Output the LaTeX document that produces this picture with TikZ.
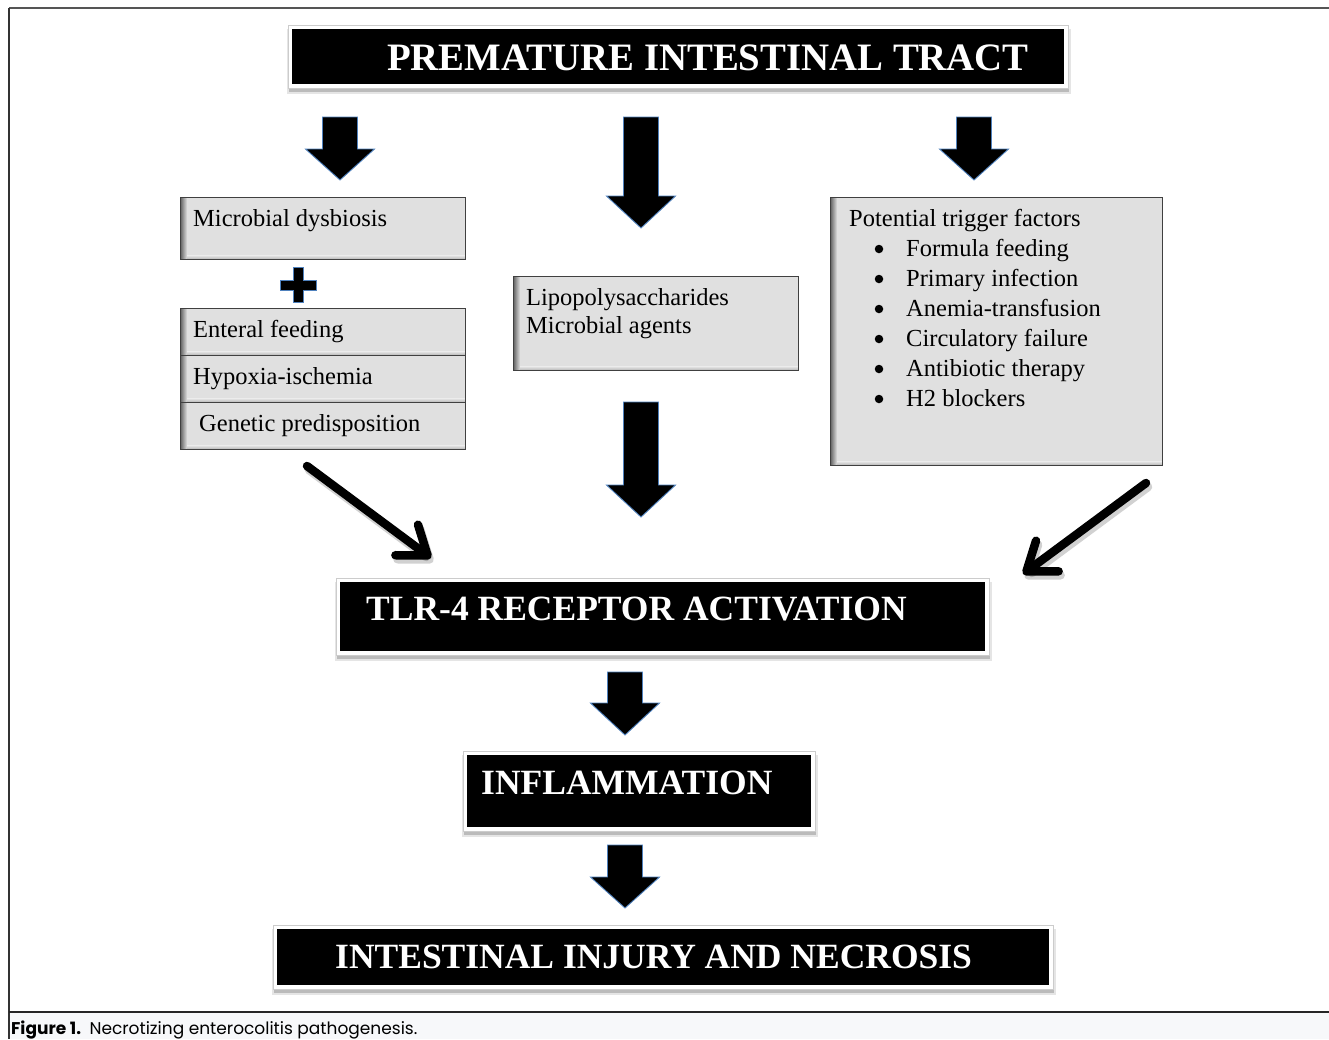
\documentclass[tikz,border=0pt]{standalone}
\usepackage{fontspec}
\setmainfont{Liberation Serif}
\newfontfamily\capfont{Poppins}
\usetikzlibrary{arrows.meta}
\definecolor{boxgray}{HTML}{E0E0E0}
\definecolor{arrowblue}{HTML}{4F81BD}
\definecolor{capbg}{HTML}{F7F8FA}
\definecolor{framegray}{HTML}{555555}
\tikzset{
  graybox/.style={draw=black!75, line width=0.9pt, fill=boxgray, inner sep=0pt, anchor=north west},
  blackbox/.style={fill=black, draw=none, inner sep=0pt, anchor=north west},
  boxframe/.style={fill=white, draw=black!20, line width=0.8pt},
  boxshadow/.style={fill=black, opacity=0.18},
  headtext/.style={text=white, font=\fontsize{35.5}{40}\selectfont\bfseries, inner sep=0pt, anchor=base west},
  bodytext/.style={text=black, font=\fontsize{24.5}{30}\selectfont, inner sep=0pt, anchor=base west},
  bulletdot/.style={circle, fill=black, inner sep=0pt, minimum size=8.5pt},
  blockarr/.style={fill=black, draw=arrowblue, line width=0.9pt, line join=miter},
  diag/.style={line width=8.5pt, line cap=round, -{Straight Barb[length=26pt,width=38pt,round]}},
  diagshadow/.style={diag, draw=black, opacity=0.18},
}
\newcommand{\blockarrow}[4]{% center x, top y, head start y, tip y
  \draw[blockarr] (#1-17.5,#2) -- (#1+17.5,#2) -- (#1+17.5,#3) -- (#1+34.5,#3) -- (#1,#4) -- (#1-34.5,#3) -- (#1-17.5,#3) -- cycle;}
\newcommand{\framedblack}[5]{% name, x1, y1, x2, y2 (black area)
  \fill[boxshadow] (#2-3,#3-1) rectangle (#4+5,#5+8);
  \fill[black, opacity=0.10] (#2-5,#3) rectangle (#4+7,#5+10);
  \draw[boxframe] (#2-4,#3-4) rectangle (#4+4,#5+4);
  \node[blackbox, minimum width=#4-#2, minimum height=#5-#3] (#1) at (#2,#3) {};}
\begin{document}
\begin{tikzpicture}[x=1pt,y=-1pt]
\useasboundingbox (0,0) rectangle (1329,1039);
\fill[white] (0,0) rectangle (1329,1039);
% outer frame and caption
\fill[capbg] (9,1012) rectangle (1329,1039);
\draw[framegray, line width=2pt] (9,8) -- (1329,8);
\draw[black!80, line width=1.2pt] (9,8) -- (9,1039);
\draw[black!85, line width=1.6pt] (9,1012) -- (1329,1012);
\node[inner sep=0pt, anchor=base west, font=\capfont\fontsize{17}{19}\selectfont] (caption) at (11,1034)
  {\textbf{Figure 1.}\hspace{0.5em}Necrotizing enterocolitis pathogenesis.};

% black heading boxes
\framedblack{top}{292}{29}{1064}{84}
\node[headtext, font=\fontsize{38.8}{42}\selectfont\bfseries] (toptext) at (387,70) {PREMATURE INTESTINAL TRACT};
\framedblack{tlr}{340}{582}{985}{651}
\node[headtext] (tlrtext) at (366,620) {TLR-4 RECEPTOR ACTIVATION};
\framedblack{infl}{467}{755}{811}{827}
\node[headtext] (infltext) at (481,794) {INFLAMMATION};
\framedblack{necr}{277}{929}{1049}{985}
\node[headtext] (necrtext) at (335,968) {INTESTINAL INJURY AND NECROSIS};

% gray boxes
\node[graybox, minimum width=285pt, minimum height=62pt] (b1) at (180,197) {};
\node[graybox, minimum width=285pt, minimum height=47pt] (b2a) at (180,308) {};
\node[graybox, minimum width=285pt, minimum height=47pt] (b2b) at (180,355) {};
\node[graybox, minimum width=285pt, minimum height=47pt] (b2c) at (180,402) {};
\node[graybox, minimum width=285pt, minimum height=94pt] (b3) at (513,276) {};
\node[graybox, minimum width=332pt, minimum height=268pt] (b4) at (830,197) {};
\foreach \b in {b1,b2a,b2b,b2c,b3,b4}{
  \shade[left color=black!60, right color=boxgray] ([xshift=0.5pt,yshift=-0.5pt]\b.north west) rectangle ([xshift=7pt,yshift=0.5pt]\b.south west);
  \shade[top color=boxgray, bottom color=black!30] ([xshift=7pt,yshift=4pt]\b.south west) rectangle ([xshift=-0.5pt,yshift=0.5pt]\b.south east);
  \draw[black!75, line width=0.9pt] (\b.north west) rectangle (\b.south east);
}
\node[bodytext] (t1) at (193,226) {Microbial dysbiosis};
\node[bodytext] (t2) at (193,337) {Enteral feeding};
\node[bodytext] (t3) at (193,384) {Hypoxia-ischemia};
\node[bodytext] (t4) at (199,431) {Genetic predisposition};
\node[bodytext] (t5) at (526,305) {Lipopolysaccharides};
\node[bodytext] (t6) at (526,333) {Microbial agents};
\node[bodytext] (t7) at (849,226) {Potential trigger factors};
\foreach \txt [count=\i] in {Formula feeding, Primary infection, Anemia-transfusion, Circulatory failure, Antibiotic therapy, H2 blockers}{
  \node[bulletdot] (bul\i) at (879,219+30*\i) {};
  \node[bodytext] (item\i) at (906,226+30*\i) {\txt};
}

% plus sign
\draw[blockarr] (293,267) -- (303,267) -- (303,280) -- (316,280) -- (316,290) -- (303,290) -- (303,302) -- (293,302) -- (293,290) -- (280,290) -- (280,280) -- (293,280) -- cycle;

% block arrows
\blockarrow{340}{117}{149}{180}
\blockarrow{641}{117}{196}{228}
\blockarrow{974}{117}{149}{180}
\blockarrow{641}{402}{485}{517}
\blockarrow{625}{672}{703}{735}
\blockarrow{625}{845}{877}{908}

% diagonal arrows
\coordinate (d1s) at (307,466);
\coordinate (d1e) at (431,558);
\coordinate (d2s) at (1146,483);
\coordinate (d2e) at (1023,574);
\draw[diagshadow] ([shift={(2,4)}]d1s) -- ([shift={(2,4)}]d1e);
\draw[diagshadow] ([shift={(2,4)}]d2s) -- ([shift={(2,4)}]d2e);
\draw[diag] (d1s) -- (d1e);
\draw[diag] (d2s) -- (d2e);
\end{tikzpicture}
\end{document}
